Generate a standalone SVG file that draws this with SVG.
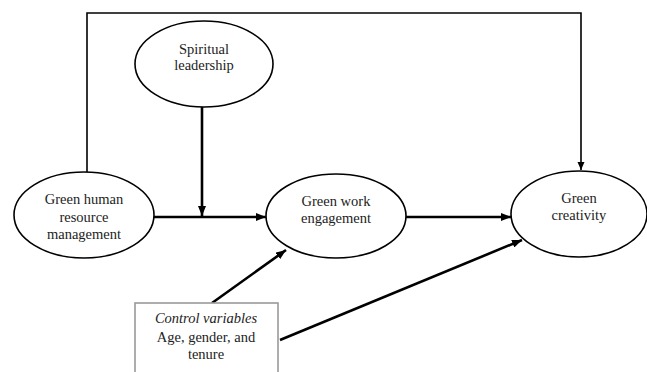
<svg xmlns="http://www.w3.org/2000/svg" width="647" height="372" viewBox="0 0 647 372">
<defs>
<style>
.node{fill:#fff;stroke:#000;stroke-width:1.6}
.box{fill:#fff;stroke:#999;stroke-width:1.6}
.t{font-family:"Liberation Serif","Times New Roman",serif;font-size:14.5px;fill:#222;text-anchor:middle}
.i{font-style:italic}
.c{fill:none;stroke:#000;stroke-width:2.6}
.thin{stroke-width:1.6}
</style>
<marker id="ah" markerUnits="userSpaceOnUse" markerWidth="10" markerHeight="8" refX="10" refY="4" orient="auto">
<path d="M0,0 L10,4 L0,8 z" fill="#000"/>
</marker>
<marker id="ahs" markerUnits="userSpaceOnUse" markerWidth="8" markerHeight="8" refX="8" refY="4" orient="auto">
<path d="M0,0.5 L8,4 L0,7.5 z" fill="#000"/>
</marker>
</defs>
<g id="connectors">
<path class="c thin" d="M87,172 V13 H581 V170" marker-end="url(#ahs)"/>
<path class="c" d="M202,107 V216" marker-end="url(#ah)"/>
<path class="c" d="M154,217 H266" marker-end="url(#ah)"/>
<path class="c" d="M406,217 H511" marker-end="url(#ah)"/>
<path class="c" d="M212,303 L286,250" marker-end="url(#ah)"/>
<path class="c" d="M280,340 L522,240" marker-end="url(#ah)"/>
</g>
<g id="spiritual">
<ellipse class="node" cx="204" cy="64" rx="69" ry="43"/>
<text class="t" x="204" y="54">Spiritual</text>
<text class="t" x="204" y="70">leadership</text>
</g>
<g id="ghrm">
<ellipse class="node" cx="84" cy="215" rx="70" ry="43"/>
<text class="t" x="84" y="204">Green human</text>
<text class="t" x="84" y="222">resource</text>
<text class="t" x="84" y="239">management</text>
</g>
<g id="gwe">
<ellipse class="node" cx="336" cy="216" rx="70" ry="42"/>
<text class="t" x="336" y="206">Green work</text>
<text class="t" x="336" y="223">engagement</text>
</g>
<g id="gc">
<ellipse class="node" cx="579" cy="214" rx="68" ry="43"/>
<text class="t" x="579" y="203">Green</text>
<text class="t" x="579" y="220">creativity</text>
</g>
<g id="controls">
<rect class="box" x="135" y="303" width="143" height="90"/>
<text class="t i" x="206" y="323">Control variables</text>
<text class="t" x="206" y="342">Age, gender, and</text>
<text class="t" x="206" y="359">tenure</text>
</g>
</svg>
